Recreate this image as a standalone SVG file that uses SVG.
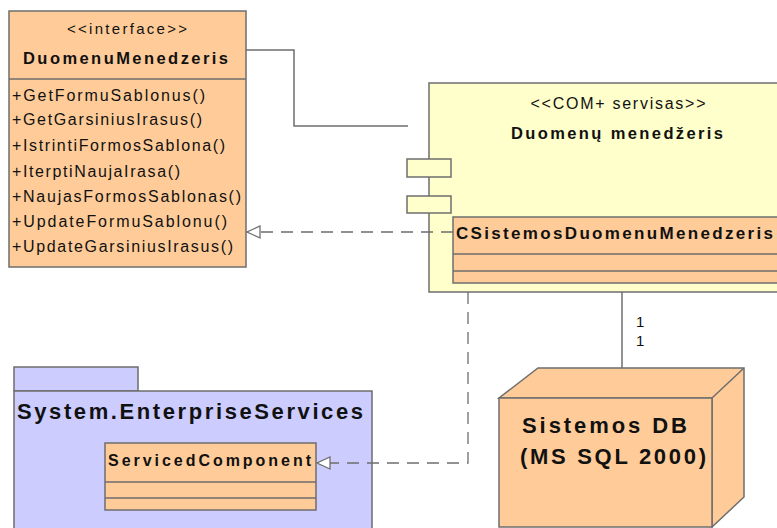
<svg xmlns="http://www.w3.org/2000/svg" width="777" height="528" viewBox="0 0 777 528">
  <style>
    .box { stroke: #6e6e6e; stroke-width: 1.5; }
    .peach { fill: #FFCC99; }
    .cream { fill: #FFFFCC; }
    .lilac { fill: #CCCCFF; }
    .line { fill: none; stroke: #6e6e6e; stroke-width: 1.5; }
    .dash { fill: none; stroke: #6e6e6e; stroke-width: 1.3; stroke-dasharray: 12 8; }
    text { font-family: "Liberation Sans", Arial, sans-serif; fill: #111; }
    .reg { font-size: 16px; }
    .st { font-size: 15px; }
    .b { font-weight: bold; font-size: 16.5px; }
    .mult { font-size: 15px; }
  </style>
  <defs>
    <marker id="realize" markerWidth="16" markerHeight="16" refX="14" refY="7" orient="auto" markerUnits="userSpaceOnUse">
      <path d="M1,1 L14,7 L1,13 Z" fill="#fff" stroke="#6e6e6e" stroke-width="1.3"/>
    </marker>
  </defs>

  <rect width="777" height="528" fill="#fff"/>

  <!-- interface DuomenuMenedzeris -->
  <g id="iface">
    <rect class="box peach" x="9" y="11" width="237" height="256"/>
    <line class="line" x1="9" y1="79" x2="246" y2="79"/>
    <text class="st" x="127" y="34" text-anchor="middle" textLength="120" lengthAdjust="spacing">&lt;&lt;interface&gt;&gt;</text>
    <text class="b" x="23" y="64" textLength="205" lengthAdjust="spacing">DuomenuMenedzeris</text>
    <text class="reg" x="12" y="101" textLength="193" lengthAdjust="spacing">+GetFormuSablonus()</text>
    <text class="reg" x="12" y="125" textLength="190" lengthAdjust="spacing">+GetGarsiniusIrasus()</text>
    <text class="reg" x="12" y="151" textLength="213" lengthAdjust="spacing">+IstrintiFormosSablona()</text>
    <text class="reg" x="12" y="177" textLength="168" lengthAdjust="spacing">+IterptiNaujaIrasa()</text>
    <text class="reg" x="12" y="202" textLength="229" lengthAdjust="spacing">+NaujasFormosSablonas()</text>
    <text class="reg" x="12" y="227" textLength="215" lengthAdjust="spacing">+UpdateFormuSablonu()</text>
    <text class="reg" x="12" y="252" textLength="221" lengthAdjust="spacing">+UpdateGarsiniusIrasus()</text>
  </g>

  <!-- COM+ component -->
  <g id="component">
    <rect class="box cream" x="429" y="83" width="360" height="209"/>
    <rect class="box cream" x="407" y="159" width="44" height="18"/>
    <rect class="box cream" x="407" y="196" width="44" height="17"/>
    <text class="reg" x="618" y="109" text-anchor="middle" textLength="175" lengthAdjust="spacing">&lt;&lt;COM+ servisas&gt;&gt;</text>
    <text class="b" x="617" y="139" text-anchor="middle" textLength="212" lengthAdjust="spacing">Duomenų menedžeris</text>
  </g>

  <!-- inner class CSistemosDuomenuMenedzeris -->
  <g id="csistemos">
    <rect class="box peach" x="453" y="217" width="340" height="66"/>
    <line class="line" x1="453" y1="254" x2="793" y2="254"/>
    <line class="line" x1="453" y1="271" x2="793" y2="271"/>
    <text class="b" x="456" y="239" style="font-size:17px" textLength="317" lengthAdjust="spacing">CSistemosDuomenuMenedzeris</text>
  </g>

  <!-- package System.EnterpriseServices -->
  <g id="package">
    <rect class="box lilac" x="14" y="367" width="124" height="24"/>
    <rect class="box lilac" x="14" y="391" width="358" height="150"/>
    <text class="b" x="17" y="419" style="font-size:22px" textLength="346" lengthAdjust="spacing">System.EnterpriseServices</text>
  </g>

  <!-- class ServicedComponent -->
  <g id="serviced">
    <rect class="box peach" x="105" y="443" width="211" height="67"/>
    <line class="line" x1="105" y1="482" x2="316" y2="482"/>
    <line class="line" x1="105" y1="498" x2="316" y2="498"/>
    <text class="b" x="108" y="466" style="font-size:16px" textLength="203" lengthAdjust="spacing">ServicedComponent</text>
  </g>

  <!-- node Sistemos DB -->
  <g id="dbnode">
    <path class="box peach" d="M499,398 L538,368 L744,368 L744,497 L712,527 L712,398 Z"/>
    <line class="line" x1="712" y1="398" x2="744" y2="368"/>
    <rect class="box peach" x="499" y="398" width="213" height="129"/>
    <text class="b" x="522" y="433" style="font-size:22px" textLength="165" lengthAdjust="spacing">Sistemos DB</text>
    <text class="b" x="520" y="464" style="font-size:22px" textLength="186" lengthAdjust="spacing">(MS SQL 2000)</text>
  </g>

  <!-- connectors -->
  <g id="connectors">
    <polyline class="line" points="246,50 294,50 294,126 408,126"/>
    <line class="dash" x1="453" y1="232" x2="247" y2="232" marker-end="url(#realize)"/>
    <polyline class="dash" points="468,292 468,463 317,463" marker-end="url(#realize)"/>
    <line class="line" x1="622" y1="292" x2="622" y2="368"/>
    <text class="mult" x="636" y="327">1</text>
    <text class="mult" x="636" y="346">1</text>
  </g>
</svg>
